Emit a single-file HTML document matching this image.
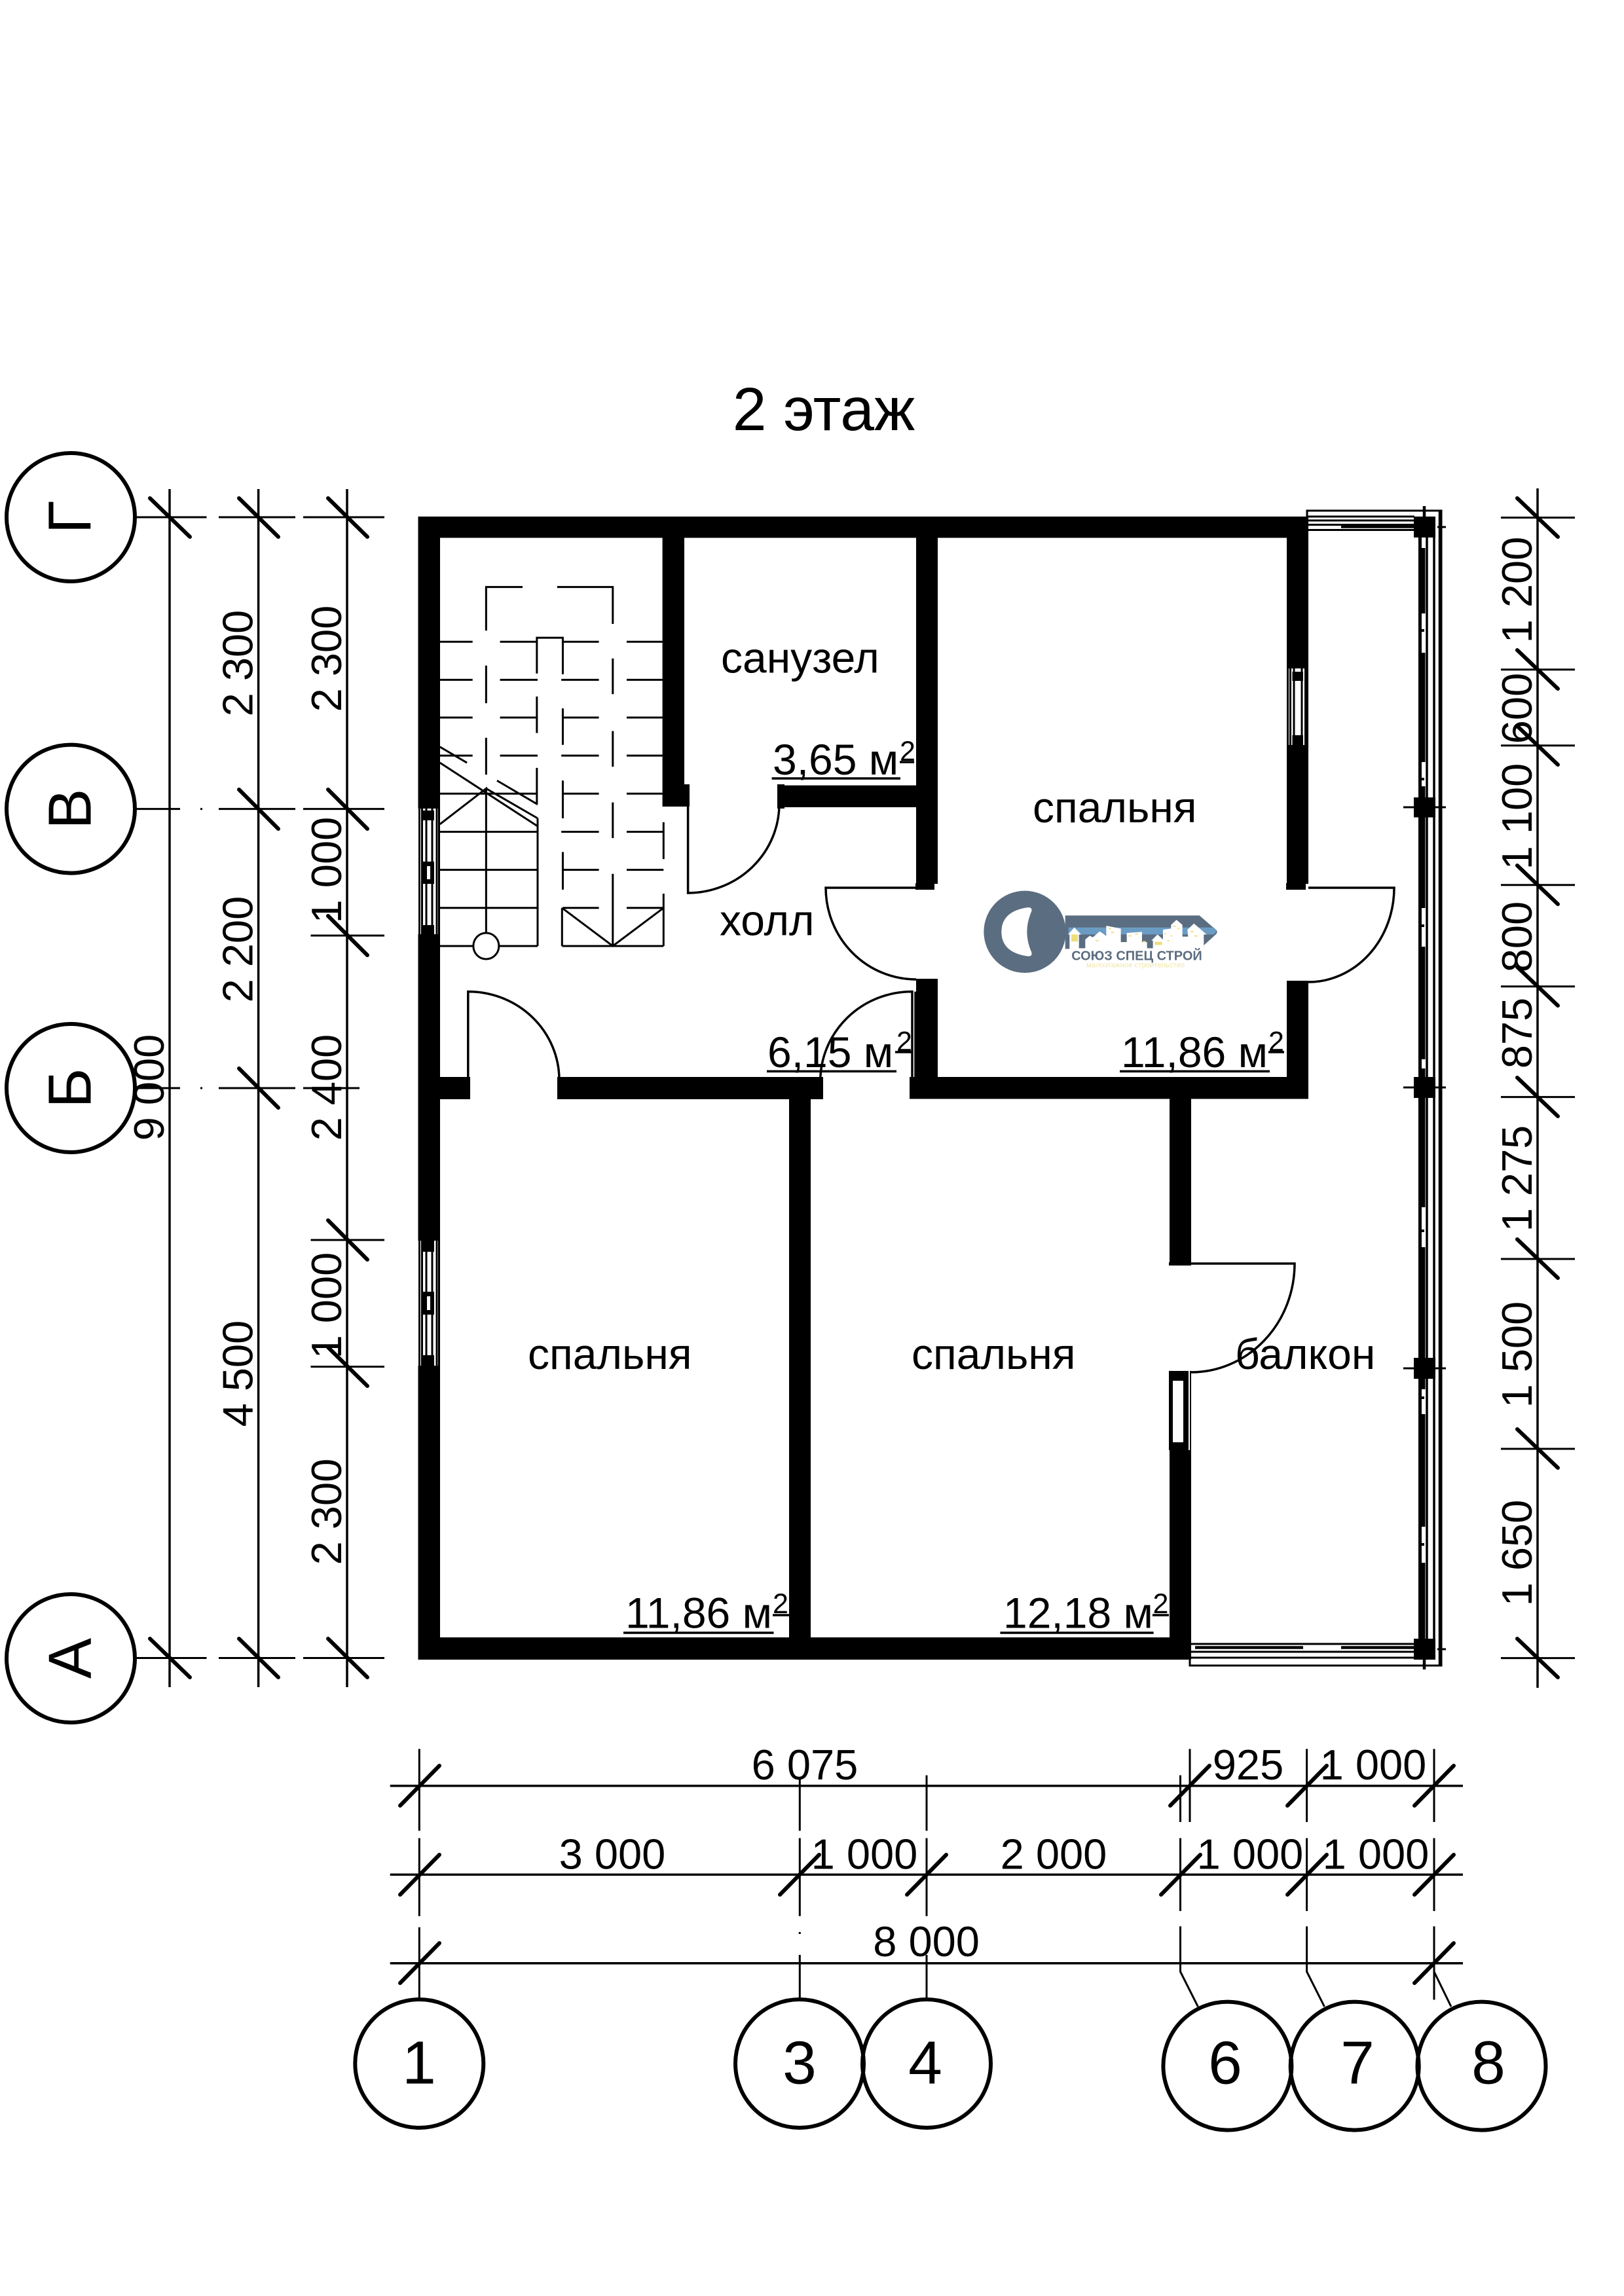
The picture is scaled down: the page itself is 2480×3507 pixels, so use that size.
<!DOCTYPE html>
<html><head><meta charset="utf-8"><style>
html,body{margin:0;padding:0;background:#fff}
svg{display:block}
text{font-family:"Liberation Sans",sans-serif;fill:#000}
.d{font-size:65px;text-anchor:middle}
.r{font-size:66px}
.s{font-size:43px}
.b{font-size:93px;text-anchor:middle}
</style></head><body>
<svg xmlns="http://www.w3.org/2000/svg" width="2480" height="3507" viewBox="0 0 2480 3507">
<rect width="2480" height="3507" fill="#fff"/>

<text x="1258" y="657" class="b">2 этаж</text>

<!-- walls -->
<g fill="#000">
<rect x="638.5" y="789" width="1359.5" height="32.5"/>
<rect x="638.5" y="789" width="33.5" height="446"/>
<rect x="638.5" y="1427" width="33.5" height="468"/>
<rect x="638.5" y="2086" width="33.5" height="449"/>
<rect x="638.5" y="2501" width="1180.5" height="34"/>
<rect x="1011.6" y="789" width="33.4" height="443"/>
<rect x="1045" y="1198" width="8" height="34"/>
<rect x="1399" y="789" width="33" height="561"/>
<rect x="1398" y="1349" width="29" height="10"/>
<rect x="1198" y="1199.6" width="201" height="33.4"/>
<rect x="1187" y="1198" width="11" height="37"/>
<rect x="1965" y="789" width="33" height="232"/>
<rect x="1965" y="1138" width="33" height="212"/>
<rect x="1964" y="1349" width="30" height="10"/>
<rect x="1965" y="1498" width="33" height="180"/>
<rect x="1389" y="1645" width="609" height="33.5"/>
<rect x="1399" y="1495" width="33" height="183"/>
<rect x="672" y="1645" width="46" height="34"/>
<rect x="851" y="1645" width="406" height="34"/>
<rect x="1205" y="1678" width="33" height="823"/>
<rect x="1786" y="1678" width="33" height="255"/>
<rect x="1785" y="1928" width="33" height="5"/>
<rect x="1786" y="2215" width="33" height="320"/>
<rect x="1785" y="2094" width="30" height="121"/>
<rect x="1817" y="2094" width="2" height="121"/>
</g>
<rect x="1791" y="2109" width="16" height="94" fill="#fff"/>

<!-- side windows -->
<g stroke="#000" stroke-width="3" fill="none">
<path d="M640.5 1235V1427M644.5 1235V1427M651 1235V1427M660 1235V1427M667 1235V1427M670.5 1235V1427"/>
<path d="M640.5 1895V2086M644.5 1895V2086M651 1895V2086M660 1895V2086M667 1895V2086M670.5 1895V2086"/>
<path d="M1966.5 1021V1138M1970.5 1021V1138M1976 1021V1138M1988 1021V1138M1993.5 1021V1138M1996.5 1021V1138"/>
</g>
<g fill="#000">
<rect x="646" y="1238" width="17" height="15"/><rect x="646" y="1316" width="17" height="34"/><rect x="646" y="1413" width="17" height="14"/>
<rect x="646" y="1895" width="17" height="17"/><rect x="646" y="1973" width="17" height="35"/><rect x="646" y="2070" width="17" height="16"/>
<rect x="1973.5" y="1026" width="16.5" height="14"/><rect x="1973.5" y="1123" width="16.5" height="15"/>
</g>
<g fill="#fff"><rect x="652" y="1323" width="5" height="20"/><rect x="652" y="1980" width="5" height="21"/></g>

<!-- stairs -->
<g transform="translate(600,750) scale(.574,.6059)" fill="none" stroke="#000">
<path vector-effect="non-scaling-stroke" stroke-width="3" d="M248 352V242H345M437 242H585V335M248 440V535M248 622V715M585 422V512M585 605V695M585 785V875M585 965V1147
M125 380H212M285 380H383M125 476H212M285 476H385M125 571H212M285 571H385M125 667H212M285 667H385
M452 380H548M622 380H717M448 476H548M622 476H717M452 571H548M622 571H717M448 667H548M622 667H717M452 763H548M622 763H717
M448 859H548M622 859H720M452 955H548M622 955H720M452 1051H548M622 1051H720M450 1147H720
M125 763H385M125 859H385M125 955H385M125 1051H385M125 1147H215M283 1147H385
M383 460V370H452V462M383 518V610M383 698V790M385 825V1147M452 548V640M452 730V825M452 910V1005M450 1051V1147
M720 835V928M720 1015V1147
M450 1051L585 1147L720 1051M125 840L248 750V1113
M125 645L197 685M277 730L385 790M125 685L385 845M248 750L385 825"/>
<ellipse vector-effect="non-scaling-stroke" stroke-width="3" cx="248" cy="1147" rx="34" ry="33"/>
</g>

<!-- doors -->
<g fill="none" stroke="#000" stroke-width="3.5">
<path d="M1050.6 1201V1364A140 136 0 0 0 1190 1228"/>
<path d="M1399 1356H1261A138 140 0 0 0 1399 1496"/>
<path d="M1998 1356H2129A131 144 0 0 1 1998 1500"/>
<path d="M1393 1646V1514.6A140 137 0 0 0 1252.7 1652M1398 1514.6V1646"/>
<path d="M714.8 1646V1514.6A139 135 0 0 1 854 1648"/>
<path d="M1819 1930H1977A158 166 0 0 1 1819 2096"/>
</g>

<!-- balcony rail -->
<g fill="none" stroke="#000">
<path stroke-width="3" d="M1996 822V780H2201V2544H1817V2535"/>
<path stroke-width="3" d="M1997 789H2160M1997 795H2160M1997 801.5H2160M1997 809.5H2160"/>
<path stroke-width="4.5" d="M2048 804.5H2160"/>
<path stroke-width="3" d="M1819 2511H2160M1819 2523H2160M1819 2532H2190"/>
<path stroke-width="4.5" d="M1825 2516.5H1990M2048 2516.5H2160"/>
<path stroke-width="5" d="M2168.5 821V1218M2168.5 1248V1645M2168.5 1677V2074M2168.5 2106V2503"/>
<path stroke-width="3.5" d="M2179 821V1218M2179 1248V1645M2179 1677V2074M2179 2106V2503M2190 821V2503"/>
<path stroke-width="4.5" d="M2199 780V2544"/>
<path stroke-width="6" d="M2173.5 837V937M2173.5 997V1164M2173.5 1201V1218M2173.5 1248V1387M2173.5 1446V1618M2173.5 1632V1645M2173.5 1677V1844M2173.5 1905V2074M2173.5 2106V2122M2173.5 2160V2332M2173.5 2387V2503"/>
<path stroke-width="4" d="M2173 961V965M2173 1188V1192M2173 1412V1416M2173 1878V1882M2173 2133V2137M2173 2357V2361"/>
<path stroke-width="3" d="M2195 805H2208M2143 1233H2208M2143 1661H2208M2143 2090H2208M2195 2519H2208"/>
<path stroke-width="4.5" d="M2175 773V790M2175 2535V2550"/>
</g>
<g fill="#000">
<rect x="2159" y="789" width="33" height="32"/><rect x="2159" y="1218" width="33" height="30.5"/>
<rect x="2159" y="1645" width="33" height="32"/><rect x="2159" y="2074" width="33" height="32"/><rect x="2159" y="2503" width="33" height="32"/>
</g>

<!-- left dimensions -->
<g fill="none" stroke="#000">
<path stroke-width="3.5" d="M259 747V2577M394.6 747V2577M530 747V2577"/>
<path stroke-width="3" d="M209 790H315.5M334 790H451M463 790H587M209 1235.6H275M334 1235.6H451M463 1235.6H587M209 1662H275M334 1662H451M463 1662H549M474.5 1429H587M474.5 1894H587M474.5 2087.5H587M209 2532.5H315.5M334 2532.5H451M463 2532.5H587M306 1235.6H309M306 1662H309"/>
<path stroke-width="6" stroke-linecap="round" d="M229 761L290 820M365 761L425 820M501 761L561 820M365 1206L425 1266M365 1632L425 1692M501 1206L561 1266M501 1399L561 1459M501 1864L561 1924M501 2058L561 2117M229 2503L290 2562M365 2503L425 2562M501 2503L561 2562"/>
<!-- right -->
<path stroke-width="3.5" d="M2348 746V2578"/>
<path stroke-width="3" d="M2292 790.6H2405M2292 1022.7H2405M2292 1138.8H2405M2292 1351.8H2405M2292 1506.8H2405M2292 1675.6H2405M2292 1923H2405M2292 2213H2405M2292 2532.6H2405"/>
<path stroke-width="6" stroke-linecap="round" d="M2317 761L2379 820M2317 993L2379 1052M2317 1109L2379 1168M2317 1322L2379 1381M2317 1477L2379 1536M2317 1646L2379 1705M2317 1893L2379 1952M2317 2183L2379 2242M2317 2503L2379 2562"/>
<!-- bottom -->
<path stroke-width="3.5" d="M595.7 2727.7H2234M595.7 2863.4H2234M595.7 2998.7H2234"/>
<path stroke-width="3" d="M640.3 2671.4V2796.4M640.3 2807.6V2926.8M640.3 2943.8V3052
M1221.3 2718V2796.4M1221.3 2807.6V2926.8M1221.3 2951V2954M1221.3 2986V3052
M1415 2711.6V2796.4M1415 2807.6V2926.8M1415 2986V3052
M1802.5 2711.6V2783M1817 2671.4V2783M1995.6 2671.4V2783M2190 2671.4V2783
M1802.5 2807.6V2919M1995.6 2807.6V2919M2190 2807.6V2919
M1802.5 2942.4V3011.6L1829.4 3065M1995.6 2942.4V3011.6L2022.5 3065M2190 2942.4V3054.5M2190 3011.6L2216 3065"/>
<path stroke-width="6" stroke-linecap="round" d="M611 2758L671 2697M1787 2758L1847 2697M1966 2758L2026 2697M2160 2758L2220 2697
M611 2894L671 2833M1191 2894L1251 2833M1385 2894L1445 2833M1773 2894L1833 2833M1966 2894L2026 2833M2160 2894L2220 2833
M611 3029L671 2968M2160 3029L2220 2968"/>
</g>

<!-- axis bubbles -->
<g fill="none" stroke="#000" stroke-width="6">
<circle cx="108" cy="790" r="98"/><circle cx="108" cy="1235.6" r="98"/><circle cx="108" cy="1662" r="98"/><circle cx="108" cy="2533" r="98"/>
<circle cx="640.3" cy="3152" r="98"/><circle cx="1221" cy="3152" r="98"/><circle cx="1415" cy="3152" r="98"/>
<circle cx="1874.4" cy="3155.6" r="98"/><circle cx="2068.7" cy="3155.6" r="98"/><circle cx="2262.5" cy="3155.6" r="98"/>
</g>
<text class="b" transform="translate(138.4,790) rotate(-90)">Г</text>
<text class="b" transform="translate(138.4,1235.6) rotate(-90)">В</text>
<text class="b" transform="translate(138.4,1662) rotate(-90)">Б</text>
<text class="b" transform="translate(138.4,2533) rotate(-90)">А</text>
<text class="b" x="640" y="3182.6">1</text>
<text class="b" x="1221" y="3182.6">3</text>
<text class="b" x="1413" y="3182.6">4</text>
<text class="b" x="1871" y="3182.6">6</text>
<text class="b" x="2073" y="3182.6">7</text>
<text class="b" x="2273" y="3182.6">8</text>

<!-- dimension text -->
<text class="d" transform="translate(250,1661) rotate(-90)">9 000</text>
<text class="d" transform="translate(385.5,1013) rotate(-90)">2 300</text>
<text class="d" transform="translate(385.5,1450) rotate(-90)">2 200</text>
<text class="d" transform="translate(385.5,2098) rotate(-90)">4 500</text>
<text class="d" transform="translate(521,1006) rotate(-90)">2 300</text>
<text class="d" transform="translate(521,1329) rotate(-90)">1 000</text>
<text class="d" transform="translate(521,1661) rotate(-90)">2 400</text>
<text class="d" transform="translate(521,1994) rotate(-90)">1 000</text>
<text class="d" transform="translate(521,2309) rotate(-90)">2 300</text>
<text class="d" transform="translate(2339,901) rotate(-90)">1 200</text>
<text class="d" transform="translate(2339,1082) rotate(-90)">600</text>
<text class="d" transform="translate(2339,1247) rotate(-90)">1 100</text>
<text class="d" transform="translate(2339,1431) rotate(-90)">800</text>
<text class="d" transform="translate(2339,1578) rotate(-90)">875</text>
<text class="d" transform="translate(2339,1800) rotate(-90)">1 275</text>
<text class="d" transform="translate(2339,2069) rotate(-90)">1 500</text>
<text class="d" transform="translate(2339,2372) rotate(-90)">1 650</text>
<text class="d" x="1229" y="2718">6 075</text>
<text class="d" x="1906" y="2718">925</text>
<text class="d" x="2097" y="2718">1 000</text>
<text class="d" x="935" y="2854.5">3 000</text>
<text class="d" x="1320" y="2854.5">1 000</text>
<text class="d" x="1609" y="2854.5">2 000</text>
<text class="d" x="1909" y="2854.5">1 000</text>
<text class="d" x="2101" y="2854.5">1 000</text>
<text class="d" x="1414.6" y="2988">8 000</text>

<!-- room labels -->
<text class="r" x="1101" y="1027.5">санузел</text>
<text class="r" x="1099" y="1428.6">холл</text>
<text class="r" x="1577" y="1256">спальня</text>
<text class="r" x="806" y="2091">спальня</text>
<text class="r" x="1392" y="2091">спальня</text>
<text class="r" x="1886" y="2091">балкон</text>
<text class="r" x="1180" y="1183">3,65 м</text><text class="s" x="1374" y="1162">2</text>
<text class="r" x="1172" y="1630">6,15 м</text><text class="s" x="1369" y="1605.5">2</text>
<text class="r" x="1712" y="1630">11,86 м</text><text class="s" x="1937" y="1605.5">2</text>
<text class="r" x="955" y="2486.5">11,86 м</text><text class="s" x="1180" y="2464">2</text>
<text class="r" x="1532" y="2486.5">12,18 м</text><text class="s" x="1760.5" y="2464">2</text>
<g stroke="#000" stroke-width="3.5" fill="none">
<path d="M1178.6 1189H1375M1374 1164H1396M1171 1636.4H1369M1367 1607H1392M1710 1636.4H1939M1937 1607H1961M952 2494H1181.5M1180 2467H1205M1527.4 2494H1761.6M1760 2467H1785"/>
</g>

<!-- logo -->
<g transform="translate(1470,1340) scale(.3333)">
<path fill="#5b6d80" d="M470 175H1085L1160 240Q1172 250 1160 262L1105 312V328H470Z"/>
<circle cx="285" cy="250" r="188" fill="#5b6d80"/>
<path fill="#fff" d="M300 138Q322 138 315 158Q275 250 315 342Q322 362 300 362Q178 345 178 250Q178 155 300 138Z"/>
<path fill="#6b9cc4" d="M485 230H1150Q1172 246 1150 262H485Z"/>
<path fill="#fff" d="M490 330V262H483L512 230L543 262H533V325H562V285L582 268L597 275L628 248L658 268V222L725 235V297H752V255L822 250V297H845V325H872V290H865L893 262L918 285V240L955 235V218L980 195L1007 218V272H1033L1030 240L1060 212L1118 262H1105V335Z"/>
<g fill="#eedd7a"><rect x="498" y="262" width="30" height="32"/><rect x="880" y="296" width="34" height="14"/><rect x="610" y="288" width="14" height="5"/><rect x="760" y="266" width="14" height="5"/><rect x="790" y="258" width="14" height="5"/><rect x="825" y="292" width="14" height="6"/><rect x="670" y="232" width="10" height="6"/><rect x="680" y="250" width="14" height="5"/><rect x="1045" y="246" width="12" height="6"/><rect x="1062" y="266" width="12" height="6"/><rect x="925" y="256" width="8" height="6"/><rect x="952" y="266" width="8" height="5"/><rect x="938" y="288" width="8" height="6"/><rect x="965" y="222" width="12" height="5"/><rect x="985" y="232" width="8" height="6"/></g>
<text x="798" y="380" font-size="60" font-weight="bold" text-anchor="middle" style="fill:#5b6d80">СОЮЗ СПЕЦ СТРОЙ</text>
<text x="792" y="412" font-size="34" text-anchor="middle" style="fill:#f0e6a8">малоэтажное строительство</text>
</g>
</svg>
</body></html>
